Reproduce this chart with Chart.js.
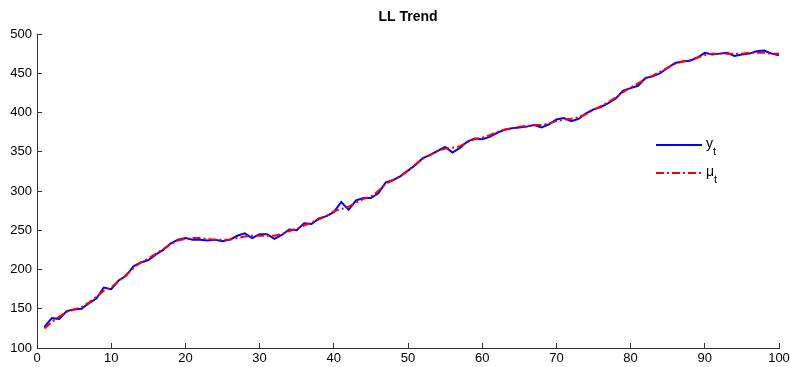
<!DOCTYPE html>
<html>
<head>
<meta charset="utf-8">
<script src="https://cdn.jsdelivr.net/npm/chart.js@4.4.0/dist/chart.umd.min.js"></script>
<style>
  body { margin: 0; background: #fff; }
  canvas { display: block; }
</style>
</head>
<body>
<canvas id="trendChart" width="790" height="367"></canvas>
<script>
//////// Data ////////
const steps = [];
for (let t = 1; t <= 100; t++) steps.push(t);

// observed series y_t
const yValues = [
  127, 138, 137, 147, 149, 150, 157, 163, 177, 175,
  186, 192, 204, 209, 212, 219, 225, 233, 238, 240,
  238, 238, 237, 238, 236, 238, 243, 246, 240, 245,
  245, 239, 244, 251, 250, 259, 258, 265, 268, 273,
  286, 276, 288, 291, 291, 297, 311, 314, 319, 326,
  333, 342, 346, 351, 356, 349, 355, 363, 367, 366,
  369, 374, 378, 380, 381, 382, 384, 381, 385, 391,
  393, 389, 392, 399, 404, 407, 412, 418, 428, 431,
  434, 444, 446, 450, 457, 463, 465, 466, 470, 476,
  474, 475, 476, 472, 474, 475, 478, 479, 475, 473,
];

// level estimate mu_t
const muValues = [
  125, 133, 140, 146, 149, 152, 158, 165, 173, 177,
  185, 193, 202, 209, 214, 220, 226, 232, 237, 239,
  240, 240, 239, 238, 238, 238, 240, 242, 243, 243,
  243, 243, 245, 249, 252, 256, 260, 264, 268, 274,
  277, 280, 285, 290, 293, 300, 309, 314, 319, 326,
  334, 341, 346, 351, 354, 355, 357, 362, 366, 368,
  371, 375, 378, 380, 382, 383, 384, 384, 386, 389,
  391, 392, 394, 398, 403, 408, 413, 419, 426, 432,
  437, 443, 447, 452, 457, 462, 465, 467, 470, 473,
  475, 475, 475, 475, 475, 476, 476, 476, 475, 475,
];

const xTicks = [0, 10, 20, 30, 40, 50, 60, 70, 80, 90, 100];
const yTicks = [100, 150, 200, 250, 300, 350, 400, 450, 500];

const toPoints = (vals) => vals.map((v, i) => ({ x: steps[i], y: v }));

const FONT = "'Liberation Sans', Arial, sans-serif";

//////// Legend drawn inside the axes ////////
const insideLegend = {
  id: "insideLegend",
  afterDraw(chart) {
    const ctx = chart.ctx;
    const rows = [
      { ds: chart.data.datasets[0], sym: "y", y: 145 },
      { ds: chart.data.datasets[1], sym: "\u03bc", y: 173 },
    ];
    ctx.save();
    rows.forEach((row) => {
      ctx.beginPath();
      ctx.strokeStyle = row.ds.borderColor;
      ctx.lineWidth = row.ds.borderWidth;
      ctx.setLineDash(row.ds.borderDash || []);
      ctx.moveTo(656, row.y);
      ctx.lineTo(702, row.y);
      ctx.stroke();
      ctx.setLineDash([]);
      ctx.fillStyle = "#000";
      ctx.textBaseline = "alphabetic";
      ctx.textAlign = "left";
      ctx.font = "14px " + FONT;
      ctx.fillText(row.sym, 706, row.y + 3);
      const w = ctx.measureText(row.sym).width;
      ctx.font = "11px " + FONT;
      ctx.fillText("t", 706 + w, row.y + 10);
    });
    ctx.restore();
  },
};

const ctx = document.getElementById("trendChart");
const trendChart = new Chart(ctx, {
  type: "line",
  data: {
    datasets: [
      {
        label: "y_t",
        data: toPoints(yValues),
        borderColor: "#0000ff",
        borderWidth: 2,
        pointRadius: 0,
        tension: 0,
        fill: false,
        order: 1,
      },
      {
        label: "mu_t",
        data: toPoints(muValues),
        borderColor: "#ff0000",
        borderWidth: 2,
        borderDash: [8, 3, 2, 3],
        pointRadius: 0,
        tension: 0,
        fill: false,
        order: 0,
      },
    ],
  },
  options: {
    responsive: false,
    animation: false,
    layout: { padding: { left: 0, right: 11, top: 0, bottom: 0 } },
    scales: {
      x: {
        type: "linear",
        min: 0,
        max: 100,
        afterBuildTicks: (s) => { s.ticks = xTicks.map((v) => ({ value: v })); },
        afterFit: (s) => {
          s.height = 19;
          s.paddingLeft = 0;
          s.paddingRight = 0;
        },
        grid: { drawOnChartArea: false, tickLength: -5, color: "#333" },
        border: { display: true, color: "#333", width: 1 },
        ticks: {
          color: "#000",
          padding: 8,
          maxRotation: 0,
          font: { family: FONT, size: 13 },
        },
      },
      y: {
        min: 100,
        max: 500,
        afterBuildTicks: (s) => { s.ticks = yTicks.map((v) => ({ value: v })); },
        afterFit: (s) => {
          s.width = 37;
          s.paddingTop = 0;
          s.paddingBottom = 0;
        },
        grid: { drawOnChartArea: false, tickLength: -5, color: "#333" },
        border: { display: true, color: "#333", width: 1 },
        ticks: {
          color: "#000",
          padding: 10,
          font: { family: FONT, size: 13 },
        },
      },
    },
    plugins: {
      title: {
        display: true,
        fullSize: false,
        text: "LL Trend",
        color: "#000",
        font: { family: FONT, size: 14, weight: "bold", lineHeight: 1.2 },
        padding: { top: 9, bottom: 8.2 },
      },
      legend: { display: false },
      tooltip: { enabled: false },
    },
  },
  plugins: [insideLegend],
});
</script>
</body>
</html>
